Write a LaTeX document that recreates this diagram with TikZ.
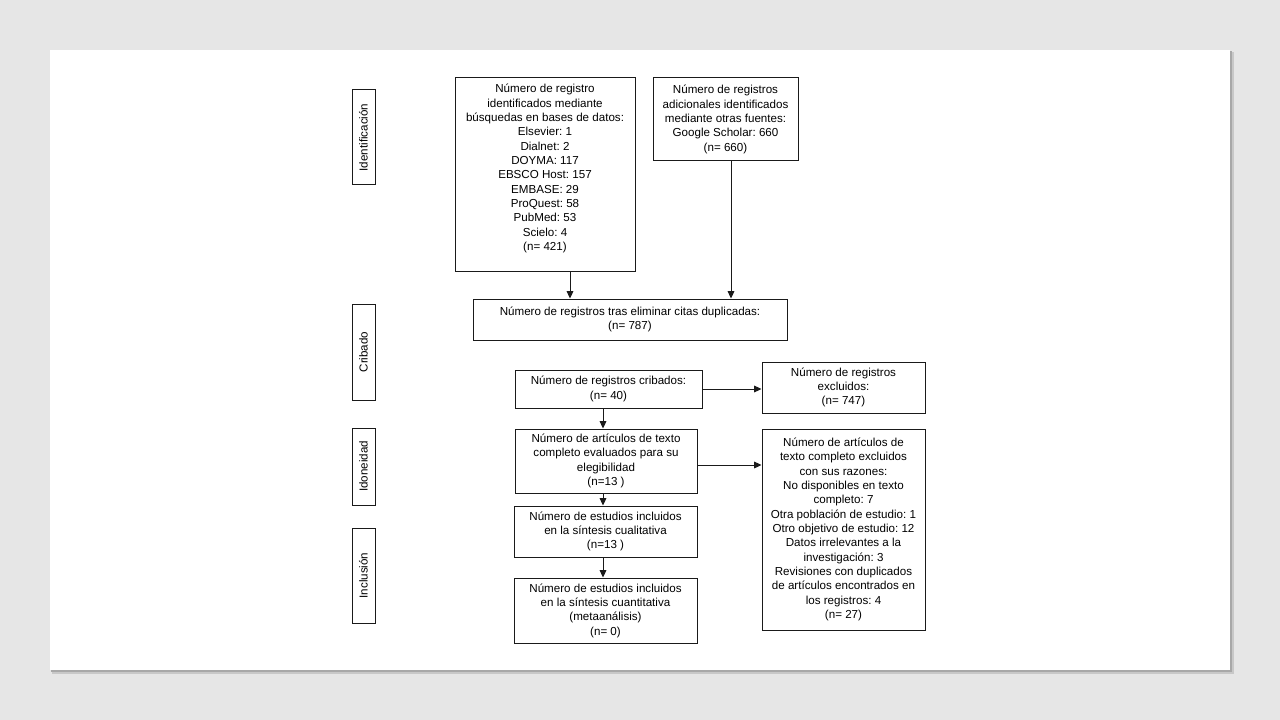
\documentclass[tikz,border=0pt]{standalone}
\usepackage{fontspec}
\setmainfont{Liberation Sans}
\usetikzlibrary{arrows.meta,calc}
\definecolor{bgc}{HTML}{E6E6E6}
\definecolor{shadowc}{HTML}{A8A8A8}
\definecolor{shadowd}{HTML}{C8C8C8}
\definecolor{linec}{HTML}{1A1A1A}
\frenchspacing
\begin{document}
\begin{tikzpicture}[x=0.75pt,y=-0.75pt,
  box/.style={draw=linec, line width=0.75pt, inner sep=0pt, fill=white, align=center,
    font=\fontsize{8.7pt}{10.75pt}\selectfont, text=black},
  sz/.style 2 args={minimum width=#1*0.75pt, minimum height=#2*0.75pt},
  txt/.style={align=center, font=\fontsize{8.7pt}{10.75pt}\selectfont, inner sep=0pt, text=black},
  arr/.style={draw=linec, line width=0.75pt, -{Triangle[length=5.5pt,width=5pt]}},
  side/.style={box, rotate=90}]
\useasboundingbox (0,0) rectangle (1280,720);
\fill[bgc] (0,0) rectangle (1280,720);
\fill[shadowd] (52,52) rectangle (1234,674);
\fill[shadowc] (51,51) rectangle (1232,672);
\fill[white] (50,50) rectangle (1230,670);

% phase labels
\node[side, sz={95}{23}] (S1) at (363.5,137.5) {Identificación};
\node[side, sz={96}{23}] (S2) at (363.5,352) {Cribado};
\node[side, sz={77}{23}] (S3) at (363.5,466.5) {Idoneidad};
\node[side, sz={95}{23}] (S4) at (363.5,575.5) {Inclusión};

% boxes
\node[box, sz={180}{193}] (A) at (545,174.5) {};
\node[txt] (At) at (545,168.5) {Número de registro\\ identificados mediante\\ búsquedas en bases de datos:\\ Elsevier: 1\\ Dialnet: 2\\ DOYMA: 117\\ EBSCO Host: 157\\ EMBASE: 29\\ ProQuest: 58\\ PubMed: 53\\ Scielo: 4\\ (n= 421)};
\node[box, sz={145}{83}] (B) at (725.5,119.5) {Número de registros\\ adicionales identificados\\ mediante otras fuentes:\\ Google Scholar: 660\\ (n= 660)};
\node[box, sz={314}{41}] (C) at (630,319.5) {Número de registros tras eliminar citas duplicadas:\\ (n= 787)};
\node[box, sz={187}{38}] (D) at (608.5,389) {Número de registros cribados:\\ (n= 40)};
\node[box, sz={163}{51}] (E) at (843.5,387.5) {Número de registros\\ excluidos:\\ (n= 747)};
\node[box, sz={182}{64}] (F) at (606,461) {Número de artículos de texto\\ completo evaluados para su\\ elegibilidad\\ (n=13 )};
\node[box, sz={163}{201}] (G) at (843.5,529.5) {Número de artículos de\\ texto completo excluidos\\ con sus razones:\\ No disponibles en texto\\ completo: 7\\ Otra población de estudio: 1\\ Otro objetivo de estudio: 12\\ Datos irrelevantes a la\\ investigación: 3\\ Revisiones con duplicados\\ de artículos encontrados en\\ los registros: 4\\ (n= 27)};
\node[box, sz={183}{51}] (H) at (605.5,531.5) {Número de estudios incluidos\\ en la síntesis cualitativa\\ (n=13 )};
\node[box, sz={183}{65}] (I) at (605.5,610.5) {Número de estudios incluidos\\ en la síntesis cuantitativa\\ (metaanálisis)\\ (n= 0)};

% connectors
\draw[arr] ($(A.south)+(25,0)$) coordinate (a1) -- (a1 |- C.north);
\draw[arr] ($(B.south)+(5.5,0)$) coordinate (b1) -- (b1 |- C.north);
\draw[arr] (D.east) -- (D.east -| E.west);
\draw[arr] ($(D.south)+(-5.5,0)$) coordinate (d1) -- (d1 |- F.north);
\draw[arr] ($(F.east)+(0,4)$) coordinate (f1) -- (f1 -| G.west);
\draw[arr] ($(F.south)+(-3,0)$) coordinate (f2) -- (f2 |- H.north);
\draw[arr] ($(H.south)+(-2.5,0)$) coordinate (h1) -- (h1 |- I.north);
\end{tikzpicture}
\end{document}
